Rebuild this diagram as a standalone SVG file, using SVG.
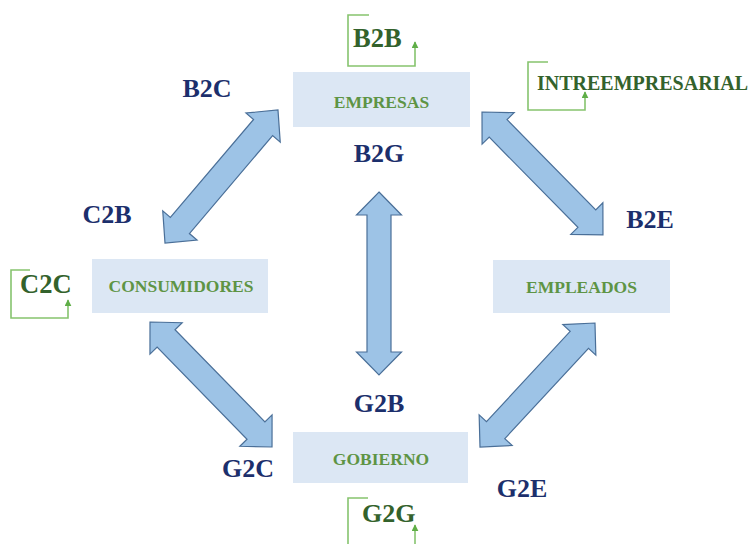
<svg xmlns="http://www.w3.org/2000/svg" width="753" height="544" viewBox="0 0 753 544">
<defs>
<style>
.box{fill:#dce7f4}
.nl{font-family:"Liberation Serif","Times New Roman",serif;font-weight:bold;font-size:17.5px;fill:#5e9444;text-anchor:middle}
.bl{font-family:"Liberation Serif","Times New Roman",serif;font-weight:bold;font-size:26px;fill:#1c2f6c;text-anchor:middle}
.gl{font-family:"Liberation Serif","Times New Roman",serif;font-weight:bold;fill:#33622c}
.br{fill:none;stroke:#86c46e;stroke-width:1.6}
.arr{fill:#9dc3e6;stroke:#4a6f98;stroke-width:1.2;stroke-linejoin:miter}
</style>
<marker id="ga" viewBox="0 0 10 10" refX="9" refY="5" markerWidth="7" markerHeight="7" orient="auto" markerUnits="userSpaceOnUse">
<path d="M0,0 L10,5 L0,10 Z" fill="#5fae47"/>
</marker>
</defs>
<rect width="753" height="544" fill="#ffffff"/>

<g id="connectors">
<polygon class="arr" transform="translate(165,243) rotate(-49.65)" points="0,0 23,-22.5 23,-12.5 151.5,-12.5 151.5,-22.5 174.5,0 151.5,22.5 151.5,12.5 23,12.5 23,22.5"/>
<polygon class="arr" transform="translate(482,112) rotate(45.47)" points="0,0 23,-22.5 23,-12.5 149.5,-12.5 149.5,-22.5 172.5,0 149.5,22.5 149.5,12.5 23,12.5 23,22.5"/>
<polygon class="arr" transform="translate(379,192) rotate(90)" points="0,0 23,-22.5 23,-12 160,-12 160,-22.5 183,0 160,22.5 160,12 23,12 23,22.5"/>
<polygon class="arr" transform="translate(480,447) rotate(-47.16)" points="0,0 23,-22.5 23,-12.5 146.1,-12.5 146.1,-22.5 169.1,0 146.1,22.5 146.1,12.5 23,12.5 23,22.5"/>
<polygon class="arr" transform="translate(150,322) rotate(45.69)" points="0,0 23,-22.5 23,-12.5 151.7,-12.5 151.7,-22.5 174.7,0 151.7,22.5 151.7,12.5 23,12.5 23,22.5"/>
</g>

<g id="empresas">
<rect class="box" x="293" y="72" width="177" height="55"/>
<text class="nl" x="381.5" y="108">EMPRESAS</text>
</g>
<g id="consumidores">
<rect class="box" x="92" y="259" width="176" height="54"/>
<text class="nl" x="181" y="292">CONSUMIDORES</text>
</g>
<g id="empleados">
<rect class="box" x="493" y="260" width="177" height="53"/>
<text class="nl" x="581.5" y="293">EMPLEADOS</text>
</g>
<g id="gobierno">
<rect class="box" x="293" y="432" width="175" height="51"/>
<text class="nl" x="381" y="465">GOBIERNO</text>
</g>

<g id="b2b">
<path class="br" d="M369,15 H348 V66 H415 V42" marker-end="url(#ga)"/>
<text class="gl" x="353" y="47" font-size="26.5">B2B</text>
</g>
<g id="intreempresarial">
<path class="br" d="M548,62 H528 V110 H585 V92" marker-end="url(#ga)"/>
<text class="gl" x="537" y="90" font-size="20">INTREEMPRESARIAL</text>
</g>
<g id="c2c">
<path class="br" d="M30,270 H11 V318 H68 V300" marker-end="url(#ga)"/>
<text class="gl" x="20" y="293" font-size="26.5">C2C</text>
</g>
<g id="g2g">
<path class="br" d="M368,498 H348 V546"/>
<path class="br" d="M415,546 V525" marker-end="url(#ga)"/>
<text class="gl" x="362" y="522" font-size="26">G2G</text>
</g>

<g id="labels">
<text class="bl" x="207" y="97">B2C</text>
<text class="bl" x="379" y="162">B2G</text>
<text class="bl" x="107" y="223">C2B</text>
<text class="bl" x="650" y="228">B2E</text>
<text class="bl" x="379" y="412">G2B</text>
<text class="bl" x="248" y="477">G2C</text>
<text class="bl" x="522" y="497">G2E</text>
</g>
</svg>
